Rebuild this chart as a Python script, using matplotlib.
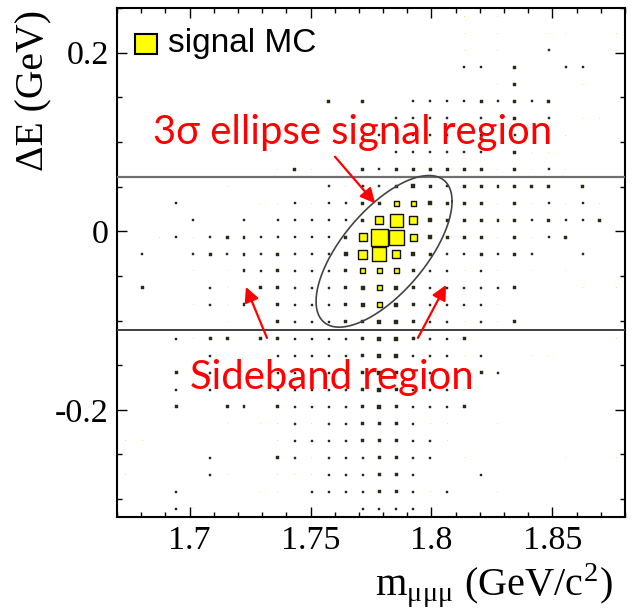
import numpy as np
import matplotlib
matplotlib.use('Agg')
import matplotlib.pyplot as plt
from matplotlib.patches import Rectangle
from matplotlib.collections import PatchCollection
from matplotlib.ticker import MultipleLocator, FormatStrFormatter

plt.rcParams['axes.unicode_minus'] = False
plt.rcParams['mathtext.fontset'] = 'stix'

########## Binning of the 2D histogram
m_range = (1.67, 1.88)      # m_mumumu (GeV/c^2)
dE_range = (-0.32, 0.25)    # Delta E (GeV)
n_bins = 30

########## Signal MC bin contents (box option), highest dE row first.
# one base-18 char per bin, '.' = empty, 'h' = 17 = box fills the bin
signal_mc_rows = [
	".......... .......... 1.1.......",
	".......... .......... 1.1..11..1",
	".......... .......... 1.1..2...1",
	".......... .......... 22.3..22..",
	".......... .......... ..13...1..",
	".......... ..3.3..222 232323....",
	".......... ......2222 .2.3.2.11.",
	".......... .....22222 .2.2..1...",
	".......... ......2222 22.311....",
	".........1 31..323333 3313121...",
	"......1... ..21223432 333333.3..",
	"...2...111 2122335543 331312121.",
	"....2..2.2 222238d843 333323223.",
	"..12123322 22238hf743 3313123...",
	".2..232323 22249e8432 23232..2..",
	"....1.1323 2223555322 121.1.1...",
	".3...21133 2223454322 2223...1.1",
	"....1213.3 2223454322 221.......",
	"......11.3 2223344322 1213......",
	"...2133133 2222344322 3........1",
	".....2.1.2 2222344222 12..11....",
	"...3.2...2 2222343222 .32.......",
	"...2.2...2 2222343222 1.........",
	"...3..33.3 2222343222 3.........",
	"......1111 2122333211 ..1.......",
	"11.......1 2222333221 ..........",
	".....2...3 212223322. 1.....1..1",
	"1....211.1 11222332.. .2........",
	"...2....11 .222233212 ..1.......",
	"...21..... ....2222.. ..........",
]
box_full = 17

########## Selection
dE_band = (-0.1106, 0.0607)          # horizontal lines
ellipse_centre = (1.7804, -0.0225)
ellipse_sigma = (0.00937, 0.0283)
ellipse_rho = 0.66
n_sigma = 3

########## Build content grid
content = np.zeros((n_bins, n_bins))
for i, row in enumerate(signal_mc_rows):
	row = row.replace(' ', '')
	for j, ch in enumerate(row):
		if ch != '.':
			content[n_bins - 1 - i, j] = int(ch, 18)

m_edges = np.linspace(m_range[0], m_range[1], n_bins + 1)
dE_edges = np.linspace(dE_range[0], dE_range[1], n_bins + 1)
m_centres = 0.5 * (m_edges[1:] + m_edges[:-1])
dE_centres = 0.5 * (dE_edges[1:] + dE_edges[:-1])
bw_m = m_edges[1] - m_edges[0]
bw_dE = dE_edges[1] - dE_edges[0]

fig = plt.figure(figsize=(6.36, 6.10), dpi=100)
ax = fig.add_axes([0.18396, 0.15246, 0.79874, 0.83443])

# tiny boxes: only the fill shows; small boxes: outline swallows the fill; large: yellow with outline
tiny, small, large = [], [], []
for iy in range(n_bins):
	for ix in range(n_bins):
		v = content[iy, ix]
		if v <= 0:
			continue
		w = bw_m * v / box_full
		h = bw_dE * v / box_full
		r = Rectangle((m_centres[ix] - w / 2, dE_centres[iy] - h / 2), w, h)
		if v < 2:
			tiny.append(r)
		elif v < 5:
			small.append(r)
		else:
			large.append(r)
ax.add_collection(PatchCollection(tiny, facecolor='#f0ec70', edgecolor='none', zorder=2))
ax.add_collection(PatchCollection(small, facecolor='#2a2a1a', edgecolor='#2a2a1a', linewidths=0.3, zorder=3))
ax.add_collection(PatchCollection(large, facecolor='#ffff00', edgecolor='#111111', linewidths=1.0, zorder=3))

# sideband lines
ax.axhline(dE_band[1], color='#707070', lw=1.6, zorder=4)
ax.axhline(dE_band[0], color='#404040', lw=1.4, zorder=4)

# 3 sigma ellipse
sx, sy = ellipse_sigma
cov = np.array([[sx**2, ellipse_rho*sx*sy], [ellipse_rho*sx*sy, sy**2]])
L = np.linalg.cholesky(cov)
t = np.linspace(0, 2*np.pi, 400)
pts = n_sigma * L @ np.vstack([np.cos(t), np.sin(t)])
ax.plot(ellipse_centre[0] + pts[0], ellipse_centre[1] + pts[1], color='#444444', lw=1.2, zorder=4)

# annotations
red_font = ['Lato', 'DejaVu Sans']
ax.text(1.7674, 0.0977, '3σ ellipse signal region', color='#ff0000', fontsize=28.8,
	family=red_font, ha='center', va='baseline', zorder=6)
ax.text(1.7587, -0.1766, 'Sideband region', color='#ff0000', fontsize=28.8,
	family=red_font, ha='center', va='baseline', zorder=6)
arrow_kw = dict(arrowstyle='-|>', color='#ff0000', lw=1.6, mutation_scale=22, shrinkA=0, shrinkB=0)
ax.annotate('', xy=(1.7767, 0.0313), xytext=(1.7601, 0.0835), arrowprops=arrow_kw, zorder=6)
ax.annotate('', xy=(1.7233, -0.0624), xytext=(1.7320, -0.1195), arrowprops=arrow_kw, zorder=6)
ax.annotate('', xy=(1.8060, -0.0602), xytext=(1.7944, -0.1195), arrowprops=arrow_kw, zorder=6)

# legend
ax.add_patch(Rectangle((0.0354, 0.9100), 0.0433, 0.0392, transform=ax.transAxes,
	facecolor='#ffff00', edgecolor='black', lw=1.5, zorder=6))
ax.text(0.1004, 0.930, 'signal MC', transform=ax.transAxes, fontsize=24,
	family='Liberation Sans', va='center', ha='left', zorder=6)

########## Axes
ax.set_xlim(m_range)
ax.set_ylim(dE_range)
ax.xaxis.set_major_locator(MultipleLocator(0.05))
ax.xaxis.set_minor_locator(MultipleLocator(0.01))
ax.yaxis.set_major_locator(MultipleLocator(0.2))
ax.yaxis.set_minor_locator(MultipleLocator(0.05))
ax.xaxis.set_major_formatter(FormatStrFormatter('%g'))
ax.yaxis.set_major_formatter(plt.FuncFormatter(lambda v, p: '%g' % round(v, 3)))
ax.tick_params(which='both', direction='in', top=True, right=True, width=1.0)
ax.tick_params(which='major', length=7)
ax.tick_params(which='minor', length=3.5)
ax.tick_params(axis='x', pad=6)
ax.tick_params(axis='y', pad=6)
for lab in ax.get_xticklabels() + ax.get_yticklabels():
	lab.set_family('Liberation Serif')
	lab.set_fontsize(24.5)
for sp in ax.spines.values():
	sp.set_linewidth(1.5)

ax.set_xlabel(r'm$_{\mathregular{μμμ}}$ (GeV/c$^{\mathregular{2}}$)', family='Liberation Serif',
	fontsize=29, loc='right')
ax.xaxis.set_label_coords(0.975, -0.088)
ax.set_ylabel('ΔE (GeV)', family='Liberation Serif', fontsize=28.5, loc='top')
ax.yaxis.set_label_coords(-0.128, 0.996)

fig.savefig('out.png', dpi=100)
